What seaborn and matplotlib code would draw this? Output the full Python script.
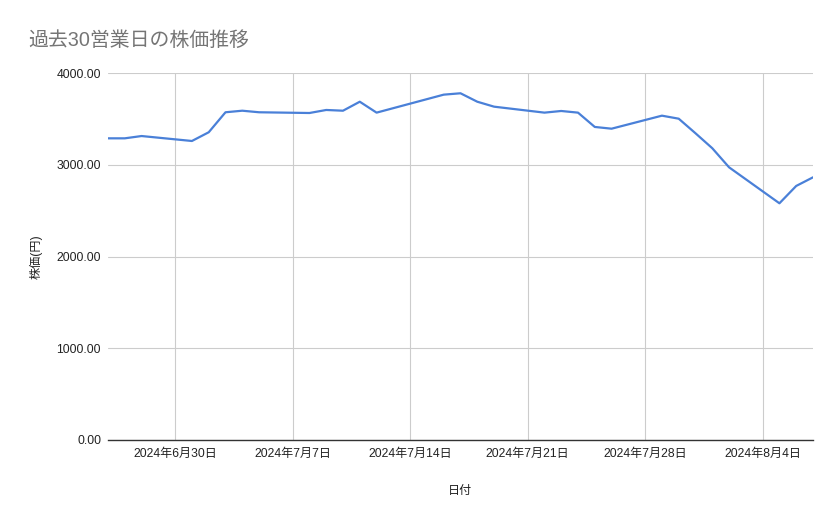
import matplotlib
matplotlib.use("Agg")
import matplotlib.pyplot as plt
import matplotlib.dates as mdates
import seaborn as sns
import pandas as pd

dates = ["2024-06-26", "2024-06-27", "2024-06-28", "2024-07-01", "2024-07-02",
         "2024-07-03", "2024-07-04", "2024-07-05", "2024-07-08", "2024-07-09",
         "2024-07-10", "2024-07-11", "2024-07-12", "2024-07-16", "2024-07-17",
         "2024-07-18", "2024-07-19", "2024-07-22", "2024-07-23", "2024-07-24",
         "2024-07-25", "2024-07-26", "2024-07-29", "2024-07-30", "2024-07-31",
         "2024-08-01", "2024-08-02", "2024-08-05", "2024-08-06", "2024-08-07"]
prices = [3288, 3288, 3313, 3259, 3354,
          3572, 3589, 3572, 3564, 3597,
          3589, 3687, 3568, 3764, 3779,
          3687, 3633, 3568, 3586, 3568,
          3412, 3393, 3535, 3502, 3343,
          3180, 2972, 2580, 2769, 2863]
tick_dates = ["2024-06-30", "2024-07-07", "2024-07-14", "2024-07-21", "2024-07-28", "2024-08-04"]
y_ticks = [0, 1000, 2000, 3000, 4000]

title = "過去30営業日の株価推移"
x_title = "日付"
y_title = "株価(円)"

df = pd.DataFrame({"日付": pd.to_datetime(dates), "株価": prices})

sns.set_theme(style="white")
plt.rcParams['font.family'] = ['Liberation Sans', 'Noto Sans CJK JP', 'DejaVu Sans']

fig = plt.figure(figsize=(8.39, 5.19), dpi=100)
ax = fig.add_axes([108/839, 79/519, (813-108)/839, (440-73)/519])

sns.lineplot(data=df, x="日付", y="株価", ax=ax, color="#4A80D8", linewidth=1.6)

ax.set_xlim(pd.Timestamp(dates[0]), pd.Timestamp(dates[-1]))
ax.set_ylim(0, 4000)
tds = pd.to_datetime(tick_dates)
ax.set_xticks(tds)
ax.set_xticklabels([f"{d.year}年{d.month}月{d.day}日" for d in tds], fontsize=8.7, color="#222222")
ax.set_yticks(y_ticks)
ax.set_yticklabels([f"{v:.2f}" for v in y_ticks], fontsize=8.7, color="#222222")
ax.tick_params(axis="both", length=0)
ax.tick_params(axis="x", pad=6)
ax.tick_params(axis="y", pad=5)

ax.grid(True, color="#CCCCCC", linewidth=0.8)
ax.set_axisbelow(True)
for s in ["top", "right", "left"]:
    ax.spines[s].set_visible(False)
ax.spines["bottom"].set_color("#333333")
ax.spines["bottom"].set_linewidth(1.0)

ax.set_xlabel(x_title, fontsize=8.7, color="#222222", labelpad=18)
ax.set_ylabel(y_title, fontsize=8.7, color="#222222", labelpad=10)

fig.text(28/839, 1 - 40/519, title, fontsize=14.3, color="#757575", ha="left", va="center")

fig.savefig("out.png", dpi=100, facecolor="white")
